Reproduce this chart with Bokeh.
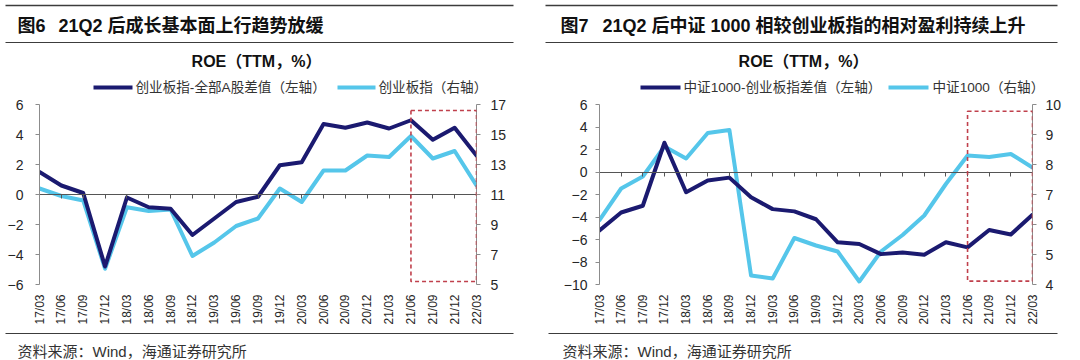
import numpy as np
from bokeh.plotting import figure
from bokeh.models import Range1d, LinearAxis, FixedTicker, BoxAnnotation
from bokeh.layouts import column, row
from bokeh.embed import file_html
from bokeh.resources import INLINE
from bokeh.core.properties import value

# ---------------- data ----------------
quarters = ["17/03", "17/06", "17/09", "17/12", "18/03", "18/06", "18/09", "18/12",
            "19/03", "19/06", "19/09", "19/12", "20/03", "20/06", "20/09", "20/12",
            "21/03", "21/06", "21/09", "21/12", "22/03"]

# Fig 6: ChiNext minus all-A spread (left axis) and ChiNext ROE (right axis)
gem_minus_alla = [1.5, 0.6, 0.1, -4.8, -0.2, -0.85, -0.95, -2.7, -1.6, -0.5, -0.15,
                  1.95, 2.15, 4.7, 4.45, 4.8, 4.4, 4.95, 3.65, 4.45, 2.6]
gem_roe = [11.4, 10.9, 10.6, 6.05, 10.15, 9.9, 10.0, 6.9, 7.8, 8.9, 9.4,
           11.4, 10.5, 12.6, 12.6, 13.6, 13.5, 14.9, 13.4, 13.9, 11.6]

# Fig 7: CSI1000 minus ChiNext spread (left axis) and CSI1000 ROE (right axis)
csi1000_minus_gem = [-5.2, -3.6, -3.0, 2.6, -1.8, -0.75, -0.5, -2.25, -3.3, -3.5, -4.2,
                     -6.25, -6.4, -7.3, -7.15, -7.35, -6.25, -6.7, -5.15, -5.55, -3.8]
csi1000_roe = [6.15, 7.2, 7.6, 8.6, 8.2, 9.05, 9.15, 4.3, 4.2, 5.55, 5.3,
               5.1, 4.1, 5.1, 5.65, 6.3, 7.35, 8.3, 8.25, 8.35, 7.9]

left_ticks_6 = [-6, -4, -2, 0, 2, 4, 6]
right_ticks_6 = [5, 7, 9, 11, 13, 15, 17]
left_ticks_7 = [-10, -8, -6, -4, -2, 0, 2, 4, 6]
right_ticks_7 = [4, 5, 6, 7, 8, 9, 10]

fig_numbers = ["图6", "图7"]
titles = ["21Q2 后成长基本面上行趋势放缓",
          "21Q2 后中证 1000 相较创业板指的相对盈利持续上升"]
subtitle = "ROE（TTM，%）"
legend6 = ["创业板指-全部A股差值（左轴）", "创业板指（右轴）"]
legend7 = ["中证1000-创业板指差值（左轴）", "中证1000（右轴）"]
source = "资料来源：Wind，海通证券研究所"
highlight_start = "21/06"

# ---------------- styles ----------------
DARK = "#1b1a70"
CYAN = "#55c6ea"
RED = "#c0404c"
AX = "#8c8c8c"
TXT = "#262626"
RULE = "#3c3c3c"
LAT = "Liberation Sans, Noto Sans CJK SC"

W = 1080
TOP_H = 94      # page y 0..94
CH_H = 236      # page y 94..330
BOT_H = 30      # page y 330..360

idx = list(range(len(quarters)))


def decor(y_top, y_bot):
    p = figure(width=W, height=y_bot - y_top, x_range=Range1d(0, W),
               y_range=Range1d(y_bot, y_top), output_backend="svg",
               toolbar_location=None, min_border=0,
               x_axis_type=None, y_axis_type=None)
    p.outline_line_color = None
    p.background_fill_color = None
    p.border_fill_color = None
    return p


# ---------------- top decoration ----------------
top = decor(0, TOP_H)
top.segment(x0=[5, 545], y0=[5, 5], x1=[513, 1057], y1=[5, 5], line_color=RULE, line_width=1.5)
top.segment(x0=[5, 545], y0=[42, 42], x1=[513, 1057], y1=[42, 42], line_color=RULE, line_width=1.2)
top.text(x=[17, 560], y=[25, 25], text=fig_numbers, text_baseline="middle", text_align="left",
         text_font=value(LAT), text_font_size="18px", text_font_style="bold", text_color="#111111")
top.text(x=[58, 602], y=[25, 25], text=titles, text_baseline="middle", text_align="left",
         text_font=value(LAT), text_font_size="18px", text_font_style="bold", text_color="#111111")
top.text(x=[256, 803], y=[61, 61], text=[subtitle, subtitle], text_baseline="middle", text_align="center",
         text_font=value(LAT), text_font_size="16px", text_font_style="bold", text_color="#111111")
# legends
top.segment(x0=[93, 640], y0=[87, 87], x1=[132, 680], y1=[87, 87], line_color=DARK, line_width=4)
top.segment(x0=[337, 888], y0=[87, 87], x1=[375, 928], y1=[87, 87], line_color=CYAN, line_width=4)
top.text(x=[135, 378, 683, 932], y=[87, 87, 87, 87],
         text=[legend6[0], legend6[1], legend7[0], legend7[1]],
         text_baseline="middle", text_align="left", text_font=value(LAT),
         text_font_size="13.6px", text_color="#333333")


# ---------------- charts ----------------
def chart(width, mbl, mbr, left_vals, right_vals, lrange, rrange, lticks, rticks, box_tb, lso, rso):
    p = figure(width=width, height=CH_H, x_range=Range1d(0, len(quarters) - 1),
               y_range=Range1d(*lrange), output_backend="svg", toolbar_location=None,
               min_border_left=mbl, min_border_right=mbr, min_border_top=10,
               min_border_bottom=CH_H - 10 - 180, x_axis_type=None, y_axis_type=None)
    p.extra_y_ranges = {"right": Range1d(*rrange)}
    p.outline_line_color = None
    p.background_fill_color = None
    p.border_fill_color = None

    def style_y(ax, ticks, so):
        ax.ticker = FixedTicker(ticks=ticks)
        ax.axis_line_color = AX
        ax.major_tick_line_color = AX
        ax.major_tick_out = 4
        ax.major_tick_in = 0
        ax.minor_tick_line_color = None
        ax.major_label_text_font = LAT
        ax.major_label_text_font_size = "14px"
        ax.major_label_text_color = TXT
        ax.major_label_standoff = so

    yl = LinearAxis()
    style_y(yl, lticks, lso)
    p.add_layout(yl, "left")
    yr = LinearAxis(y_range_name="right")
    style_y(yr, rticks, rso)
    p.add_layout(yr, "right")

    # zero line axis with ticks (no labels)
    xz = LinearAxis(ticker=FixedTicker(ticks=idx), fixed_location=0,
                    axis_line_color="#555555", major_tick_line_color="#555555",
                    major_tick_out=4, major_tick_in=0, minor_tick_line_color=None,
                    major_label_text_color=None, major_label_text_font_size="1px",
                    major_label_standoff=0)
    p.add_layout(xz, "below")
    # labels axis
    xl = LinearAxis(ticker=FixedTicker(ticks=idx),
                    major_label_overrides={i: q for i, q in enumerate(quarters)},
                    major_label_orientation=np.pi / 2, axis_line_color=None,
                    major_tick_line_color=None, minor_tick_line_color=None,
                    major_label_text_font=LAT, major_label_text_font_size="12px",
                    major_label_text_color=TXT, major_label_standoff=4)
    p.add_layout(xl, "below")

    p.line(idx, right_vals, y_range_name="right", line_color=CYAN, line_width=4,
           line_join="round", line_cap="round")
    p.line(idx, left_vals, line_color=DARK, line_width=4, line_join="round", line_cap="round")

    p.add_layout(BoxAnnotation(left=quarters.index(highlight_start), right=len(quarters) - 1,
                               top=box_tb[0], bottom=box_tb[1], fill_alpha=0,
                               line_color=RED, line_alpha=1, line_dash="4 3", line_width=1.6))
    return p


c6 = chart(540, 39, 64, gem_minus_alla, gem_roe, (-6, 6), (5, 17),
           left_ticks_6, right_ticks_6, (5.6, -5.8), 12, 10)
c7 = chart(540, 59, 48, csi1000_minus_gem, csi1000_roe, (-10, 6), (4, 10),
           left_ticks_7, right_ticks_7, (5.4, -9.7), 8, 9)

# ---------------- bottom decoration ----------------
bot = decor(330, 360)
bot.segment(x0=[5, 548], y0=[333, 333], x1=[513, 1057], y1=[333, 333], line_color=RULE, line_width=1.2)
bot.text(x=[17, 562], y=[351, 351], text=[source, source], text_baseline="middle", text_align="left",
         text_font=value(LAT), text_font_size="15px", text_color="#333333")

layout = column(top, row(c6, c7, spacing=0), bot, spacing=0)
open("out.html", "w").write(file_html(layout, INLINE))
